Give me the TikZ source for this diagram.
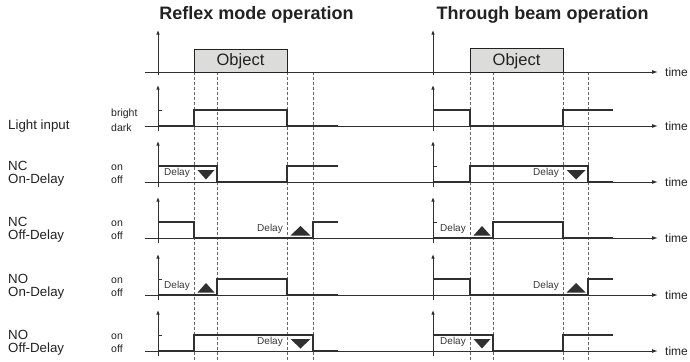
\documentclass[tikz,border=0pt]{standalone}
\usepackage{fontspec}
\setmainfont{Liberation Sans}
\usetikzlibrary{arrows.meta}
\definecolor{ink}{HTML}{222222}
\definecolor{sigc}{HTML}{303030}
\definecolor{objfill}{HTML}{DCDCDA}
\newcommand{\dtri}[3]{\fill[sigc] (#1+3.5,#3-12) -- (#2-2.5,#3-12) -- ({(#1+#2)/2+0.5},#3-2.5) -- cycle;}
\newcommand{\utri}[3]{\fill[sigc] (#1+3.5,#3-2.5) -- (#2-2.5,#3-2.5) -- ({(#1+#2)/2+0.5},#3-12) -- cycle;}
\begin{document}
\begin{tikzpicture}[x=1bp,y=-1bp,
  axisline/.style={draw=sigc, line width=1bp},
  harrow/.style={-{Latex[length=6bp,width=4bp]}},
  varrow/.style={-{Latex[length=4.5bp,width=3.5bp]}},
  sig/.style={draw=sigc, line width=2.4bp, line join=miter},
  dashln/.style={draw=black!60, line width=0.8bp, dash pattern=on 3bp off 2bp},
  objbox/.style={draw=ink, line width=1bp, fill=objfill},
  title/.style={font=\fontsize{18bp}{20bp}\selectfont\bfseries, text=ink, inner sep=0, anchor=base},
  objtxt/.style={font=\fontsize{16.5bp}{18bp}\selectfont, text=ink, inner sep=0},
  rowlab/.style={font=\fontsize{13.3bp}{15bp}\selectfont, text=ink, inner sep=0, anchor=base west},
  lvl/.style={font=\fontsize{10.5bp}{12bp}\selectfont, text=ink, inner sep=0, anchor=base west},
  dly/.style={font=\fontsize{10bp}{12bp}\selectfont, text=black!78, inner sep=0, anchor=east},
  timetxt/.style={font=\fontsize{12bp}{14bp}\selectfont, text=ink, inner sep=0, anchor=west},
]
\useasboundingbox (0,0) rectangle (690,361);

% titles
\node[title] (t1) at (256.5,19) {Reflex mode operation};
\node[title] (t2) at (542.5,19) {Through beam operation};

% dashed guide lines
\foreach \x in {194,217,287,313,470,493,563,588}
  \draw[dashln] (\x,72) -- (\x,361);

% horizontal time axes
\foreach \b/\n in {72/a,126/b,182/c,238/d,295/e,351/f} {
  \coordinate (hs\n) at (145,\b);
  \coordinate (he\n) at (658,\b);
  \draw[axisline,harrow] (hs\n) -- (he\n);
  \node[timetxt] (time\n) at (665,\b+0.5) {time};
}

% vertical axes
\foreach \x in {158,433} {
  \draw[axisline,varrow] (\x,75) -- (\x,30);
  \foreach \b in {126,182,238,295,351} {
    \draw[axisline,varrow] (\x,\b+5) -- (\x,\b-41);
    \draw[axisline] (\x,\b-16) -- (\x+4,\b-16);
  }
}

% object boxes
\draw[objbox] (194,49) rectangle (287,72);
\node[objtxt] (o1) at (240.5,61) {Object};
\draw[objbox] (470,48) rectangle (563,72);
\node[objtxt] (o2) at (516.5,61) {Object};

% row labels
\node[rowlab] (l2) at (8,129.5) {Light input};
\node[rowlab] (l3a) at (8,170.5) {NC};
\node[rowlab] (l3b) at (8,183.5) {On-Delay};
\node[rowlab] (l4a) at (8,226.5) {NC};
\node[rowlab] (l4b) at (8,239.5) {Off-Delay};
\node[rowlab] (l5a) at (8,283.5) {NO};
\node[rowlab] (l5b) at (8,296.5) {On-Delay};
\node[rowlab] (l6a) at (8,339.5) {NO};
\node[rowlab] (l6b) at (8,352.5) {Off-Delay};

% level labels
\node[lvl] (v2a) at (111,116) {bright};
\node[lvl] (v2b) at (111,131) {dark};
\node[lvl] (v3a) at (111,170) {on};
\node[lvl] (v3b) at (111,183.5) {off};
\node[lvl] (v4a) at (111,226) {on};
\node[lvl] (v4b) at (111,239.5) {off};
\node[lvl] (v5a) at (111,283) {on};
\node[lvl] (v5b) at (111,296.5) {off};
\node[lvl] (v6a) at (111,339) {on};
\node[lvl] (v6b) at (111,352.5) {off};

% left signals
\draw[sig] (158,126)--(194,126)--(194,110)--(287,110)--(287,126)--(338,126);
\draw[sig] (158,166)--(217,166)--(217,182)--(287,182)--(287,166)--(338,166);
\draw[sig] (158,222)--(194,222)--(194,238)--(313,238)--(313,222)--(338,222);
\draw[sig] (158,295)--(217,295)--(217,279)--(287,279)--(287,295)--(338,295);
\draw[sig] (158,351)--(194,351)--(194,335)--(313,335)--(313,351)--(338,351);

% right signals
\draw[sig] (433,110)--(470,110)--(470,126)--(563,126)--(563,110)--(613,110);
\draw[sig] (433,182)--(470,182)--(470,166)--(588,166)--(588,182)--(613,182);
\draw[sig] (433,238)--(493,238)--(493,222)--(563,222)--(563,238)--(613,238);
\draw[sig] (433,279)--(470,279)--(470,295)--(588,295)--(588,279)--(613,279);
\draw[sig] (433,335)--(493,335)--(493,351)--(563,351)--(563,335)--(613,335);

% delay marks
\dtri{194}{217}{182} \node[dly] (d3l) at (190,173) {Delay};
\utri{287}{313}{238} \node[dly] (d4l) at (283,229) {Delay};
\utri{194}{217}{295} \node[dly] (d5l) at (190,286) {Delay};
\dtri{287}{313}{351} \node[dly] (d6l) at (283,342) {Delay};
\dtri{563}{588}{182} \node[dly] (d3r) at (559,173) {Delay};
\utri{470}{493}{238} \node[dly] (d4r) at (466,229) {Delay};
\utri{563}{588}{295} \node[dly] (d5r) at (559,286) {Delay};
\dtri{470}{493}{351} \node[dly] (d6r) at (466,342) {Delay};
\end{tikzpicture}
\end{document}
